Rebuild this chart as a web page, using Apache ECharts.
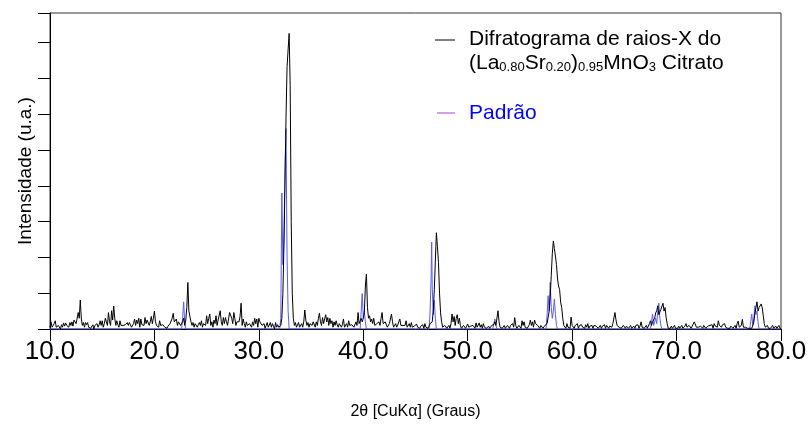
<!DOCTYPE html>
<html>
<head>
<meta charset="utf-8">
<script src="https://cdn.jsdelivr.net/npm/echarts@6/dist/echarts.min.js"></script>
<style>
* { margin: 0; padding: 0; }
body { background: #ffffff; }
#chart { width: 811px; height: 425px; }
</style>
</head>
<body>
<div id="chart"></div>
<script>
// difratograma: um valor a cada 0.1 grau, de 10.0 a 80.0
const thetaInicio = 10;
const passo = 0.1;
const difratograma = [
  0.05,0.2,0.05,0,0.15,0.23,0.05,0,0.1,0.05,        // 10
  0,0.12,0.05,0.17,0.08,0.17,0.1,0.15,0.05,0.18,    // 11
  0.1,0.2,0.08,0.25,0.3,0.15,0.3,0.46,0.3,0.81,     // 12
  0.28,0.1,0.18,0.05,0.18,0.12,0.18,0.05,0.1,0.02,  // 13
  0.05,0.12,0,0.1,0.08,0.15,0.05,0.12,0.23,0.1,     // 14
  0.23,0.05,0.15,0.3,0.2,0.1,0.46,0.2,0.1,0.51,     // 15
  0.25,0.64,0.3,0.1,0.23,0.12,0.05,0.23,0.1,0.05,   // 16
  0.1,0.05,0.12,0.15,0.18,0.1,0.18,0.12,0.05,0.1,   // 17
  0.15,0.28,0.1,0.25,0.15,0.3,0.05,0.28,0.12,0.15,  // 18
  0.1,0.32,0.15,0.25,0.3,0.1,0.2,0.35,0.15,0.3,     // 19
  0.5,0.2,0.1,0.15,0.05,0.23,0.1,0.05,0.12,0.09,    // 20
  0.05,0.09,0.02,0.08,0.05,0.15,0.1,0.3,0.44,0.2,   // 21
  0.15,0.28,0.1,0.2,0.23,0.1,0.15,0.2,0.3,0.1,      // 22
  0.25,0.6,1.3,0.5,0.46,0.2,0.1,0.18,0.05,0.15,     // 23
  0.18,0.05,0.12,0.18,0.1,0.23,0.05,0.15,0.2,0.1,   // 24
  0.37,0.15,0.3,0.42,0.1,0.2,0.05,0.25,0.15,0.37,   // 25
  0.1,0.25,0.3,0.51,0.2,0.1,0.32,0.15,0.32,0.2,     // 26
  0.1,0.15,0.46,0.5,0.3,0.15,0.46,0.3,0.1,0.2,      // 27
  0.15,0.2,0.35,0.72,0.1,0.28,0.15,0.05,0.2,0.1,    // 28
  0.05,0.15,0.1,0.05,0.2,0.1,0.3,0.15,0.28,0.05,    // 29
  0.3,0.2,0.25,0.1,0.05,0.15,0.02,0.1,0.18,0.05,    // 30
  0.1,0.18,0.05,0.15,0.08,0,0.18,0.05,0.12,0.05,    // 31
  0.02,0.1,0.3,1.0,2.3,4.0,5.9,7.33,7.8,8.26,       // 32
  6.8,3.0,1.0,0.3,0.1,0.18,0.05,0.1,0.18,0.05,      // 33
  0.1,0.15,0.05,0.2,0.53,0.25,0.1,0.18,0.05,0.15,   // 34
  0.18,0.1,0.2,0.15,0.05,0.2,0.1,0.3,0.44,0.2,      // 35
  0.1,0.32,0.15,0.28,0.4,0.2,0.32,0.1,0.3,0.15,     // 36
  0.23,0.05,0.2,0.1,0.23,0.12,0.05,0.15,0.1,0.05,   // 37
  0.12,0.28,0.05,0.1,0.15,0.05,0.23,0.1,0.05,0.12,  // 38
  0.15,0.05,0.1,0.2,0.1,0.46,0.15,0.1,0.3,0.2,      // 39
  0.3,0.45,1.2,1.53,0.6,0.3,0.37,0.2,0.28,0.15,     // 40
  0.3,0.1,0.05,0.15,0.1,0.2,0.1,0.3,0.46,0.15,      // 41
  0.1,0.2,0.23,0.05,0.1,0.15,0.1,0.42,0.2,0.05,     // 42
  0.1,0.15,0.05,0.12,0.2,0.28,0.1,0.05,0.1,0.15,    // 43
  0.1,0.23,0.05,0.1,0.15,0.05,0.18,0.05,0.1,0.08,   // 44
  0.05,0.14,0.05,0.1,0.02,0.08,0.05,0.12,0.02,0.15, // 45
  0.05,0.1,0.02,0.08,0.15,0.1,0.2,0.5,1.1,1.9,      // 46
  2.69,2.3,1.86,1.0,0.45,0.2,0.05,0.02,0.1,0.05,    // 47
  0.02,0.05,0.1,0.02,0.15,0.42,0.2,0.35,0.1,0.3,    // 48
  0.4,0.15,0.3,0.1,0.02,0.05,0.1,0.05,0.02,0.08,    // 49
  0.14,0.05,0.02,0.08,0.05,0.1,0.05,0.02,0.17,0.05, // 50
  0.1,0.17,0.05,0.12,0.02,0.15,0.05,0.1,0.02,0.05,  // 51
  0.08,0.02,0.05,0.1,0.05,0.12,0.2,0.1,0.15,0.51,   // 52
  0.2,0.05,0.1,0.02,0.05,0.1,0.02,0.05,0.1,0.05,    // 53
  0.02,0.1,0.05,0.15,0.05,0.32,0.1,0.02,0.05,0.1,   // 54
  0.05,0.02,0.23,0.1,0.2,0.05,0.1,0.02,0.05,0.12,   // 55
  0.25,0.1,0.2,0.05,0.25,0.15,0.2,0.1,0.05,0.02,    // 56
  0.1,0.05,0.02,0.05,0.1,0.05,0.15,0.2,0.5,0.9,     // 57
  1.5,2.1,2.46,2.25,2.3,1.8,1.4,1.2,1.1,0.75,       // 58
  0.6,0.3,0.1,0.05,0.02,0.15,0.05,0.1,0.02,0.33,    // 59
  0.1,0.05,0.02,0.1,0.05,0.15,0.02,0.1,0.05,0.12,   // 60
  0.05,0.1,0.02,0.12,0.05,0.15,0.02,0.08,0.05,0.1,  // 61
  0.02,0.1,0.05,0.08,0.12,0.02,0.05,0.1,0.02,0.08,  // 62
  0.05,0.12,0.02,0.1,0.05,0.02,0.08,0.1,0.05,0.15,  // 63
  0.2,0.46,0.25,0.1,0.15,0.05,0.1,0.02,0.05,0.1,    // 64
  0.05,0.02,0.08,0.12,0.02,0.05,0.1,0.02,0.05,0.08, // 65
  0.02,0.1,0.05,0.12,0.02,0.08,0.2,0.05,0.1,0.02,   // 66
  0.05,0.1,0.02,0.05,0.15,0.23,0.1,0.2,0.15,0.3,    // 67
  0.45,0.51,0.65,0.4,0.35,0.55,0.6,0.72,0.5,0.6,    // 68
  0.32,0.15,0.02,0.05,0.02,0.08,0.02,0.05,0.1,0.02, // 69
  0.05,0.02,0.08,0.02,0.05,0.1,0.02,0.05,0.08,0.15, // 70
  0.05,0.02,0.1,0.05,0.02,0.08,0.12,0.2,0.15,0.05,  // 71
  0.02,0.05,0.02,0.08,0.05,0.02,0.1,0.05,0.02,0.05, // 72
  0.08,0.05,0.1,0.05,0.12,0.02,0.15,0.08,0.1,0.05,  // 73
  0.23,0.1,0.15,0.05,0.12,0.08,0.15,0.05,0.1,0.02,  // 74
  0.05,0.02,0.08,0.05,0.02,0.05,0.1,0.02,0.15,0.22, // 75
  0.05,0.02,0.1,0.27,0.05,0.02,0.05,0.1,0.02,0.05,  // 76
  0.02,0.05,0.02,0.1,0.2,0.45,0.6,0.76,0.5,0.6,     // 77
  0.56,0.7,0.6,0.37,0.15,0.05,0.02,0.1,0.02,0.05,   // 78
  0.02,0.05,0.1,0.02,0.05,0.08,0.02,0.05,0.1,0.02,  // 79
  0                                                 // 80
];

// padrão: picos [2θ, intensidade]
const padrao = [
  [10,0],[22.6,0],[22.7,0.3],[22.8,0.76],[22.9,0.2],[23.0,0],
  [32.0,0],[32.1,0.3],[32.2,3.8],[32.3,1.8],[32.4,2.5],[32.5,4.5],[32.6,5.6],[32.7,2.0],[32.8,0.5],[32.9,0],
  [39.7,0],[39.8,0.5],[39.9,0.99],[40.0,0.3],[40.1,0.5],[40.2,0.2],[40.3,0],
  [46.3,0],[46.4,0.5],[46.5,1.5],[46.55,2.43],[46.6,1.2],[46.7,0.4],[46.8,0.8],[46.9,0.3],[47.0,0],
  [52.4,0],[52.5,0.15],[52.6,0.28],[52.7,0.1],[52.8,0],
  [57.5,0],[57.6,0.4],[57.7,0.93],[57.8,0.5],[57.9,1.3],[58.0,0.6],[58.1,0.3],[58.2,0.5],[58.3,0.84],[58.4,0.4],[58.5,0.1],[58.6,0],
  [67.5,0],[67.6,0.2],[67.7,0.42],[67.8,0.1],[67.9,0.2],[68.0,0.3],[68.1,0.15],[68.2,0.5],[68.3,0.72],[68.4,0.3],[68.5,0.1],[68.6,0],
  [77.0,0],[77.1,0.2],[77.2,0.42],[77.3,0.1],[77.4,0.3],[77.5,0.65],[77.6,0.4],[77.7,0.5],[77.8,0.2],[77.9,0],[80,0]
];

const xTicks = [10, 20, 30, 40, 50, 60, 70, 80];

const fonte = 'Liberation Sans, Arial, sans-serif';

const dadosDifratograma = difratograma.map((v, i) => [+(thetaInicio + i * passo).toFixed(1), v]);

const chart = echarts.init(document.getElementById('chart'));

const option = {
    backgroundColor: '#ffffff',
    animation: false,
    grid: {
        left: 50,
        right: 30,
        top: 13,
        bottom: 95,
        show: true,
        borderColor: '#333',
        borderWidth: 1
    },
    xAxis: {
        type: 'value',
        min: xTicks[0],
        max: xTicks[xTicks.length - 1],
        interval: 10,
        name: '2θ [CuKα] (Graus)',
        nameLocation: 'middle',
        nameGap: 75,
        nameTextStyle: { fontFamily: fonte, fontSize: 16, color: '#000' },
        axisLine: { lineStyle: { color: '#000', width: 1 } },
        axisTick: { inside: false, length: 12, lineStyle: { color: '#000' } },
        axisLabel: {
            margin: 10,
            fontFamily: fonte,
            fontSize: 26,
            color: '#000',
            formatter: v => v.toFixed(1)
        },
        splitLine: { show: false }
    },
    yAxis: {
        type: 'value',
        min: 0,
        max: 8.83,
        interval: 1,
        name: 'Intensidade (u.a.)',
        nameLocation: 'middle',
        nameGap: 15,
        nameTextStyle: { fontFamily: fonte, fontSize: 19, color: '#000' },
        axisLine: { show: true, lineStyle: { color: '#000', width: 1 } },
        axisTick: { show: true, inside: false, length: 12, lineStyle: { color: '#000' } },
        axisLabel: { show: false },
        splitLine: { show: false }
    },
    series: [
        {
            name: 'Padrão',
            type: 'line',
            data: padrao,
            showSymbol: false,
            lineStyle: { color: '#5a5aff', width: 1 },
            z: 2
        },
        {
            name: 'Difratograma',
            type: 'line',
            data: dadosDifratograma,
            showSymbol: false,
            sampling: null,
            lineStyle: { color: '#000', width: 1 },
            z: 3
        }
    ],
    graphic: [
        { type: 'line', shape: { x1: 435, y1: 40, x2: 455, y2: 40 }, style: { stroke: '#000', lineWidth: 1 } },
        {
            type: 'text', left: 469, top: 29,
            style: { text: 'Difratograma de raios-X do', font: '21px ' + fonte, fill: '#000' }
        },
        {
            type: 'text', left: 469, top: 53,
            style: {
                text: '(La{s|0.80}Sr{s|0.20}){s|0.95}MnO{s|3} Citrato',
                font: '21px ' + fonte,
                fill: '#000',
                rich: {
                    s: { fontSize: 13, fontFamily: fonte, verticalAlign: 'bottom', lineHeight: 12 }
                }
            }
        },
        { type: 'line', shape: { x1: 437, y1: 113, x2: 455, y2: 113 }, style: { stroke: '#a040f0', lineWidth: 1 } },
        {
            type: 'text', left: 469, top: 103,
            style: { text: 'Padrão', font: '21px ' + fonte, fill: '#0000ff' }
        }
    ]
};

chart.setOption(option);
</script>
</body>
</html>
